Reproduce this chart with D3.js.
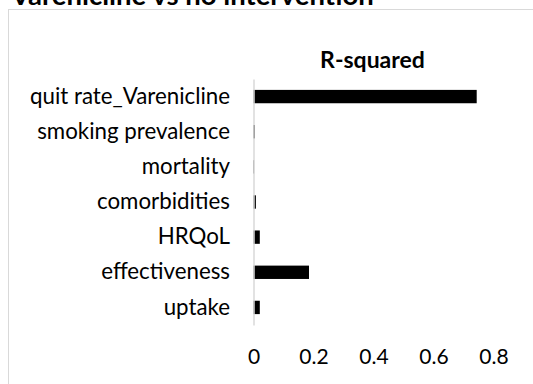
<!DOCTYPE html>
<html>
<head>
<meta charset="utf-8">
<script src="https://cdn.jsdelivr.net/npm/d3@7"></script>
<style>
  html, body { margin: 0; padding: 0; background: #fff; }
  svg { display: block; }
  text { font-family: Lato, "Open Sans", sans-serif; fill: #000; }
</style>
</head>
<body>
<svg id="chart" width="533" height="384"></svg>
<script>
// R-squared of each input in the Varenicline vs no intervention comparison
const categories = [
  "quit rate_Varenicline",
  "smoking prevalence",
  "mortality",
  "comorbidities",
  "HRQoL",
  "effectiveness",
  "uptake"
];
const rSquared = [0.744, 0.005, 0.002, 0.008, 0.021, 0.185, 0.021];
const xTicks = [0, 0.2, 0.4, 0.6, 0.8];

const svg = d3.select("#chart");

// chart area frame (runs past the right and bottom edges)
svg.append("rect")
  .attr("x", 8.5).attr("y", 9.5)
  .attr("width", 600).attr("height", 500)
  .attr("fill", "#fff")
  .attr("stroke", "#d9d9d9")
  .attr("stroke-width", 1);

// page title above the frame
svg.append("text")
  .attr("x", 11).attr("y", 5)
  .attr("font-size", 27.5).attr("font-weight", "bold")
  .text("Varenicline vs no intervention");

const x = d3.scaleLinear().domain([0, 0.8]).range([253.5, 493.5]);
const y = d3.scaleBand().domain(categories).range([79, 325]).paddingInner(0.62).paddingOuter(0.31);

// chart title
svg.append("text")
  .attr("x", 372.5).attr("y", 68)
  .attr("text-anchor", "middle")
  .attr("font-size", 23).attr("font-weight", "bold")
  .text("R-squared");

// bars
svg.append("g").selectAll("rect")
  .data(categories.map((c, i) => ({ c, v: rSquared[i] })))
  .join("rect")
  .attr("x", x(0))
  .attr("y", d => y(d.c))
  .attr("width", d => x(d.v) - x(0))
  .attr("height", y.bandwidth())
  .attr("fill", "#000");

// vertical category axis
const yAxis = svg.append("g")
  .attr("transform", `translate(${x(0)},0)`)
  .call(d3.axisLeft(y).tickSize(0).tickPadding(23.5));
yAxis.select(".domain").attr("stroke", "#d9d9d9").attr("stroke-width", 1.5);
yAxis.selectAll("text").attr("font-size", 22.3).attr("fill", "#000");

// value axis labels (no axis line)
const xAxis = svg.append("g")
  .attr("transform", "translate(0,349)")
  .call(d3.axisBottom(x).tickValues(xTicks).tickFormat(d3.format("")).tickSize(0).tickPadding(0));
xAxis.select(".domain").remove();
xAxis.selectAll("text").attr("font-size", 21).attr("fill", "#000").attr("dy", "0.71em");
</script>
</body>
</html>
